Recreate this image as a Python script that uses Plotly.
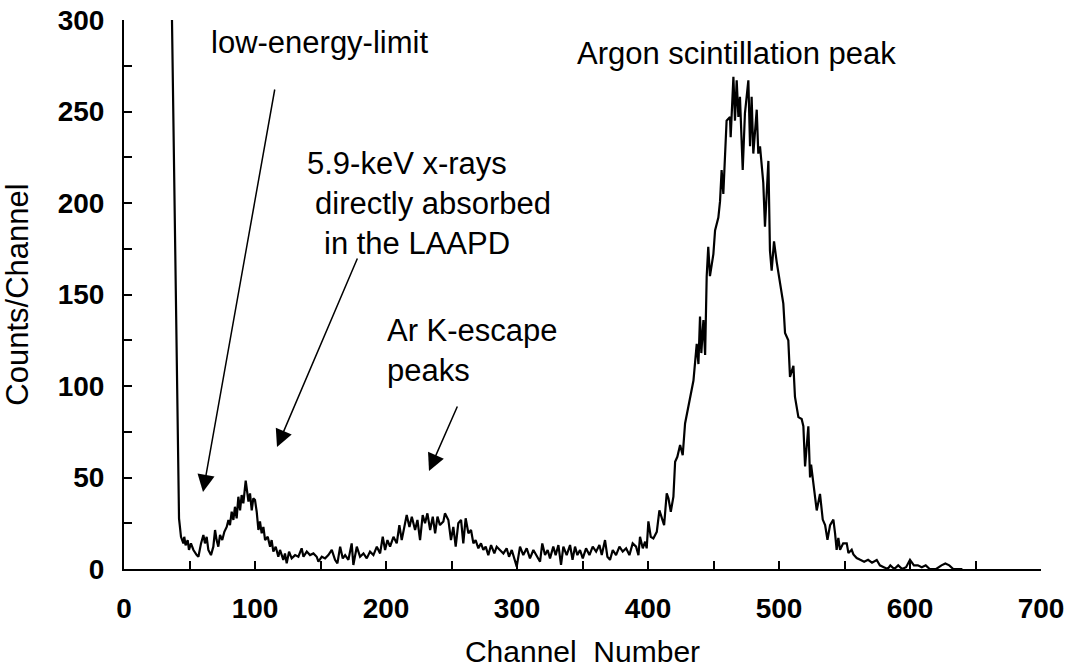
import plotly.graph_objects as go

channel = [36, 41, 42, 43.5, 45.3, 46, 47, 48.6, 49.6, 51.1, 53, 55.5, 56.8, 58.8, 60.6, 61.8, 63.1, 64.4,
           66.4, 68.2, 69.5, 70.7, 72, 73.3, 75, 76.6, 78.4, 79.7, 80.9, 82.2, 83.5, 84.7, 86, 87.3, 88.6,
           89.8, 91.1, 92.9, 93.9, 95, 96.2, 97.5, 98.7, 100, 101.3, 102.6, 103.8, 105.1, 106.4, 107.7,
           109.7, 111.5, 112.7, 114, 115.8, 117.8, 119.1, 121.6, 122.9, 124.2, 126, 128, 130.6, 133.1,
           135.6, 137, 139.5, 142, 144.6, 147.1, 148.4, 151, 153.5, 156, 158.6, 161.1, 162.9, 165, 167,
           168.8, 171.3, 173.8, 175.1, 177.7, 180.2, 182.8, 185.3, 187.8, 190.4, 193, 195.5, 197.5, 199.3,
           201.1, 203.1, 205.7, 208.2, 210.2, 212, 213.8, 215.8, 217.9, 219.7, 222.2, 224, 226, 228, 229.8,
           231.6, 233.7, 235.7, 237.5, 239.3, 241.2, 243.8, 245, 247.6, 249.6, 251.4, 253.2, 255.2, 257.3,
           259, 260.8, 262.9, 264.9, 266.7, 268.4, 270.5, 272.5, 274.3, 276.1, 278.1, 280.2, 282.7, 284.5,
           287, 289.6, 292.1, 293.9, 296, 298.5, 299.8, 302.3, 304.8, 307.4, 309.9, 312.5, 315, 317.6,
           319.3, 321.4, 323.4, 325.2, 327.7, 329.5, 331.6, 333.6, 335.4, 337.9, 340.5, 342.4, 344.3,
           346.1, 348.1, 350.2, 352.7, 355.3, 357.8, 360.4, 362.9, 364.7, 367.2, 369, 371, 373.1, 375.6,
           378.2, 380.7, 383.3, 385.8, 388.3, 390.9, 392.7, 393.9, 396, 397.8, 399, 400.3, 402.1, 404.1,
           406.7, 408.7, 410.5, 412.3, 414.3, 415.6, 417.4, 419.4, 420.7, 422.4, 424.5, 426.5, 428.3,
           430.8, 433.4, 434.7, 437.2, 438.5, 439.7, 440.7, 442.3, 443.6, 444.8, 446, 447.3, 449.9, 451.2,
           453.7, 455, 456.2, 457.5, 458.8, 460, 462.6, 463.1, 465.2, 466.4, 467.7, 469, 470.2, 472.3, 474,
           476.6, 477.9, 479.1, 480.4, 483, 484.2, 485.5, 488, 489.3, 491.9, 493.1, 494.4, 496.2, 498.2,
           500.8, 503.3, 504.6, 507.1, 508.4, 511, 512.2, 514.8, 517.3, 518.6, 519.9, 522.4, 523.7, 524.5,
           526.2, 527.5, 528.8, 531.3, 533.4, 535.2, 537, 539, 541.5, 542.8, 544, 545.3, 546.6, 549, 551.7,
           553, 555.5, 556.8, 559.3, 562, 565, 568, 571, 574.6, 577, 580, 583, 585, 588, 591, 594, 597, 600,
           603, 606, 609, 612, 615, 620, 624, 627, 630, 633, 640]

counts = [332, 70.5, 27.7, 17.6, 14, 17.6, 13, 15.8, 10.4, 14, 10.4, 7.6, 6.7, 14, 18.6, 14, 17.6, 10.4,
          7.6, 12.2, 21.3, 15.8, 12.2, 18.6, 15.8, 20.3, 23, 26.8, 24, 31.3, 26.8, 34, 27.7, 39.5, 32,
          40.4, 35.9, 48.3, 41.3, 36.8, 41.3, 32, 38.6, 37.7, 31.3, 21.3, 26, 19.5, 23, 15.8,
          17.6, 12.2, 15.8, 9.5, 12.2, 6.7, 10.4, 5, 8.5, 3.1, 9.5, 5.8, 7.6, 6.7,
          11.3, 6.7, 9.5, 7.6, 8.5, 6.7, 4, 6.7, 5.8, 7.6, 10.4, 5, 3.1, 12.2, 5.8,
          7.6, 5, 14, 2.2, 12.2, 6.7, 8.5, 5.8, 9.5, 7.6, 12.2, 8.5, 17.6, 10.4,
          15.8, 12.2, 17.6, 14, 24, 15.8, 22, 29.5, 23, 28.6, 21.3, 26.8, 15.8, 29.5, 25,
          30.4, 21.3, 28.6, 19.5, 28.6, 24, 26, 30.4, 26.8, 15.8, 23, 12.2, 25, 26.8,
          14, 27.7, 19.5, 21.3, 14, 15.8, 11.3, 14, 10.4, 12.2, 7.6, 13.1, 8.5, 12.2,
          10.4, 8.5, 11.3, 6.7, 10.4, 5, 1.3, 12.2, 7.6, 11.3, 5.8, 10.4, 7.6, 4,
          14, 7.6, 10.4, 5.8, 12.2, 7.6, 13.1, 2.2, 12.2, 7.6, 13.1, 5, 12.2,
          7.6, 10.4, 5.8, 11.3, 7.6, 12.2, 9.5, 13.1, 7.6, 15.8, 6.7, 5, 10.4, 7.6,
          12.2, 9.5, 11.3, 7.6, 14, 12.2, 7.6, 17.6, 11.3, 14.9, 11.3, 26, 17.6, 16.7,
          20.3, 32, 27.7, 24, 41.3, 38.6, 31.3, 39.5, 58.6, 61.3, 67.8, 62.2, 79.5,
          89, 100, 103, 123, 112, 138, 118, 136, 117, 160, 176, 160, 172, 185,
          192, 201, 218, 205, 223, 245, 247, 236, 269, 245, 267, 247, 258, 218, 249,
          267, 231, 258, 227, 251, 227, 231, 211, 187, 223, 174, 163, 179, 168,
          157, 145, 129, 125, 105, 111, 94, 83, 82, 78, 56, 78, 50, 57,
          47, 39.5, 32, 41, 27, 24, 16, 24, 27, 19.5, 10.5, 17, 10.5, 14, 14,
          8.7, 10.5, 8, 6, 5, 4, 5, 3.5, 4.9, 2, 1, 0, 2, 0, 2, 0, 1, 5,
          2, 2, 1, 2, 0, 0, 2, 3, 2, 0, 0]

x_tick_vals = [0, 50, 100, 150, 200, 250, 300, 350, 400, 450, 500, 550, 600, 650, 700]
x_tick_text = ["0", "", "100", "", "200", "", "300", "", "400", "", "500", "", "600", "", "700"]
y_tick_vals = [0, 25, 50, 75, 100, 125, 150, 175, 200, 225, 250, 275, 300]
y_tick_text = ["0", "", "50", "", "100", "", "150", "", "200", "", "250", "", "300"]

fig = go.Figure()
fig.add_trace(go.Scatter(x=channel, y=counts, mode="lines",
                         line=dict(color="black", width=2.2), showlegend=False,
                         hoverinfo="skip"))

font_main = "Liberation Sans, Arial, sans-serif"
ann_font = dict(family=font_main, size=31, color="black")

def px2x(px):
    return (px - 124) / (917 / 700)

def py2y(py):
    return (569 - py) / (549 / 300)

texts = [
    ("low-energy-limit", 209, 42),
    ("5.9-keV x-rays", 305, 163),
    ("directly absorbed", 313, 203),
    ("in the LAAPD", 322, 243),
    ("Ar K-escape", 385, 330),
    ("peaks", 385, 370),
    ("Argon scintillation peak", 575, 53),
]
annotations = []
for t, px, py in texts:
    annotations.append(dict(text=t, x=px2x(px), y=py2y(py), xref="x", yref="y",
                            xanchor="left", yanchor="middle", showarrow=False,
                            font=ann_font))

arrows = [((275, 88), (203, 492)), ((358, 257), (277, 447)), ((458, 405), (429, 471))]
for (tx, ty), (hx, hy) in arrows:
    annotations.append(dict(text="", x=px2x(hx), y=py2y(hy), ax=px2x(tx), ay=py2y(ty),
                            xref="x", yref="y", axref="x", ayref="y", showarrow=True,
                            arrowhead=2, arrowsize=2.3, arrowwidth=1.5, arrowcolor="black"))

fig.update_layout(
    width=1068, height=668,
    margin=dict(l=124, r=27, t=20, b=99, autoexpand=False),
    paper_bgcolor="white", plot_bgcolor="white",
    annotations=annotations,
    font=dict(family=font_main, color="black"),
)
fig.update_xaxes(range=[0, 700], showline=True, linecolor="black", linewidth=2,
                 showgrid=False, zeroline=False, ticks="inside", ticklen=8, tickwidth=1.5,
                 tickcolor="black", tickvals=x_tick_vals, ticktext=x_tick_text,
                 tickfont=dict(family=font_main, size=28, weight="bold", color="black"),
                 ticklabelstandoff=13, automargin=False,
                 title=dict(text="Channel\u00a0 Number", standoff=23,
                            font=dict(family=font_main, size=30, color="black")))
fig.update_yaxes(range=[0, 300], showline=True, linecolor="black", linewidth=2,
                 showgrid=False, zeroline=False, ticks="inside", ticklen=8, tickwidth=1.5,
                 tickcolor="black", tickvals=y_tick_vals, ticktext=y_tick_text,
                 tickfont=dict(family=font_main, size=28, weight="bold", color="black"),
                 ticklabelstandoff=12, automargin=False,
                 title=dict(text="Counts/Channel", standoff=21,
                            font=dict(family=font_main, size=31, color="black")))

fig.write_html("out.html")
